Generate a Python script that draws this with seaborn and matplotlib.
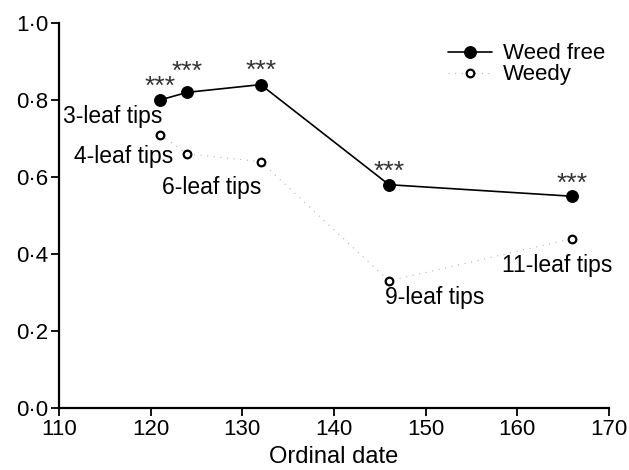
import matplotlib
matplotlib.use("Agg")
import matplotlib.pyplot as plt
from matplotlib.ticker import FuncFormatter
import seaborn as sns
import pandas as pd

# values
dates = [121, 124, 132, 146, 166]
weed_free = [0.80, 0.82, 0.84, 0.58, 0.55]
weedy = [0.71, 0.66, 0.64, 0.33, 0.44]

stage_labels = ["3-leaf tips", "4-leaf tips", "6-leaf tips", "9-leaf tips", "11-leaf tips"]
stage_x = [115.9, 117.0, 126.7, 151.0, 164.4]
stage_y = [0.756, 0.652, 0.574, 0.288, 0.369]

star_x = [121.0, 124.0, 132.0, 146.0, 166.0]
star_y = [0.835, 0.874, 0.877, 0.614, 0.583]

sns.set_style("ticks")
plt.rcParams["font.family"] = ["Liberation Sans", "DejaVu Sans"]
plt.rcParams["text.color"] = "black"

df = pd.DataFrame({"date": dates, "Weed free": weed_free, "Weedy": weedy})

fig, ax = plt.subplots(figsize=(6.29, 4.7), dpi=100)
fig.subplots_adjust(left=0.094, right=0.968, bottom=0.132, top=0.951)

sns.lineplot(data=df, x="date", y="Weed free", ax=ax, color="black", lw=1.2,
             marker="o", markersize=8.5, markerfacecolor="black",
             markeredgecolor="black", label="Weed free")
sns.lineplot(data=df, x="date", y="Weedy", ax=ax, color="#b4b4b4", lw=0.8,
             linestyle=(0, (1, 5)), marker="o", markersize=5.5,
             markerfacecolor="white", markeredgecolor="black",
             markeredgewidth=1.6, label="Weedy")

for lab, x, y in zip(stage_labels, stage_x, stage_y):
    ax.text(x, y, lab, ha="center", va="center", fontsize=16.5, color="black")

for x, y in zip(star_x, star_y):
    ax.text(x, y, "***", ha="center", va="center", fontsize=19, color="#333333")

ax.set_xlim(110, 170)
ax.set_ylim(0, 1.0)
ax.set_xticks([110, 120, 130, 140, 150, 160, 170])
ax.set_yticks([0.0, 0.2, 0.4, 0.6, 0.8, 1.0])
ax.yaxis.set_major_formatter(FuncFormatter(lambda v, p: f"{v:.1f}".replace(".", "\u00b7")))
ax.set_xlabel("Ordinal date", fontsize=17, labelpad=4, color="black")
ax.set_ylabel("")
ax.tick_params(labelsize=16, direction="out", length=6, width=1.3, colors="black", pad=2)
for s in ["left", "bottom"]:
    ax.spines[s].set_linewidth(1.6)
    ax.spines[s].set_color("black")
sns.despine(ax=ax)

leg = ax.legend(loc="upper right", bbox_to_anchor=(1.01, 0.97), frameon=False,
                fontsize=16, handlelength=2.0, handletextpad=0.5,
                labelspacing=0.0, borderaxespad=0)
for t in leg.get_texts():
    t.set_color("black")

fig.savefig("out.png", dpi=100)
